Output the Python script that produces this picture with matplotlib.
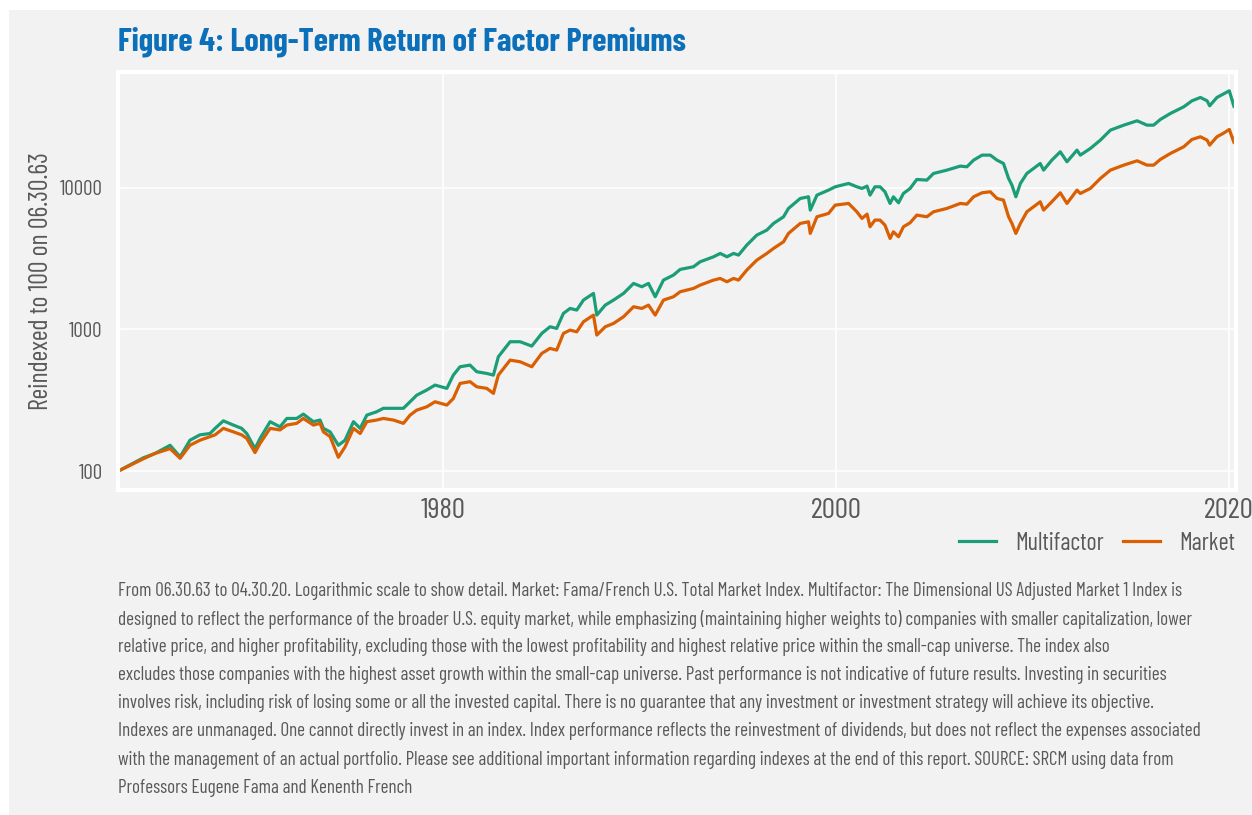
import matplotlib
matplotlib.use("Agg")
import matplotlib.pyplot as plt
from matplotlib.patches import Rectangle
from matplotlib.ticker import FixedLocator, NullLocator

# years (decimal) and index levels
years = [1963.5, 1964.77, 1965.36, 1966.13, 1966.64, 1967.14, 1967.65, 1968.16,
         1968.42, 1968.84, 1969.35, 1969.77, 1970.03, 1970.45, 1970.71, 1971.22,
         1971.72, 1972.07, 1972.57, 1972.91, 1973.42, 1973.76, 1973.93, 1974.27,
         1974.69, 1975.03, 1975.46, 1975.8, 1976.14, 1976.64, 1976.98, 1977.49,
         1978.0, 1978.34, 1978.68, 1979.19, 1979.61, 1980.21, 1980.54, 1980.88,
         1981.39, 1981.73, 1982.24, 1982.58, 1982.83, 1983.43, 1983.94, 1984.53,
         1985.04, 1985.46, 1985.8, 1986.14, 1986.48, 1986.82, 1987.16, 1987.67,
         1987.84, 1988.27, 1988.69, 1989.2, 1989.71, 1990.13, 1990.47, 1990.81,
         1991.23, 1991.74, 1992.08, 1992.76, 1993.1, 1993.78, 1994.12, 1994.46,
         1994.8, 1995.05, 1995.47, 1995.98, 1996.49, 1996.83, 1997.34, 1997.59,
         1998.19, 1998.61, 1998.7, 1999.04, 1999.63, 1999.97, 2000.65, 2001.07,
         2001.33, 2001.59, 2001.74, 2001.99, 2002.25, 2002.5, 2002.76, 2002.93,
         2003.19, 2003.44, 2003.78, 2004.12, 2004.63, 2004.97, 2005.65, 2006.33,
         2006.67, 2007.01, 2007.44, 2007.86, 2008.2, 2008.53, 2008.79, 2008.96,
         2009.16, 2009.39, 2009.72, 2010.06, 2010.4, 2010.57, 2010.99, 2011.42,
         2011.76, 2012.27, 2012.44, 2012.95, 2013.46, 2013.97, 2014.65, 2015.33,
         2015.83, 2016.17, 2016.51, 2017.02, 2017.7, 2018.12, 2018.55, 2018.89,
         2019.02, 2019.39, 2019.7, 2020.02, 2020.26, 2020.33]

multifactor = [100, 124, 133, 152, 126, 165, 180, 184,
               200, 226, 211, 200, 184, 144, 170, 223,
               205, 235, 235, 252, 223, 229, 200, 189,
               152, 165, 223, 200, 248, 262, 277, 277,
               277, 308, 343, 373, 404, 383, 475, 544,
               559, 502, 488, 475, 640, 817, 817, 761,
               935, 1042, 1014, 1294, 1403, 1366, 1607, 1791,
               1259, 1481, 1607, 1791, 2106, 1995, 2106, 1696,
               2223, 2412, 2644, 2761, 2995, 3247, 3428, 3247,
               3428, 3337, 3924, 4617, 5006, 5580, 6218, 7118,
               8373, 8603, 6929, 8838, 9588, 10120, 10683, 10120,
               9850, 10230, 8838, 10120, 10120, 9333, 7720, 8603,
               7804, 9080, 9850, 11400, 11277, 12566, 13265, 14158,
               14006, 15604, 16925, 16925, 15604, 14777, 11588, 10397,
               8603, 10683, 12566, 13630, 14777, 13265, 15604, 17865,
               15190, 18350, 16925, 18860, 21595, 25400, 27544, 29560,
               27544, 27544, 30200, 33295, 37090, 40900, 43180, 40900,
               37700, 43180, 45560, 48110, 37090, 41790]

market = [100, 122, 133, 144, 123, 152, 165, 175,
          180, 200, 189, 180, 170, 135, 157, 200,
          195, 211, 217, 235, 211, 217, 189, 175,
          125, 148, 200, 184, 223, 229, 235, 229,
          217, 248, 269, 284, 308, 292, 325, 415,
          427, 393, 383, 353, 475, 606, 590, 544,
          676, 733, 713, 935, 987, 960, 1130, 1259,
          910, 1042, 1100, 1226, 1442, 1403, 1481, 1259,
          1607, 1696, 1840, 1942, 2050, 2223, 2284, 2164,
          2284, 2223, 2615, 3076, 3428, 3718, 4143, 4744,
          5580, 5733, 4744, 6218, 6565, 7514, 7720, 6744,
          6051, 6493, 5286, 5891, 5891, 5430, 4373, 4873,
          4493, 5286, 5640, 6389, 6218, 6744, 7118, 7720,
          7637, 8603, 9180, 9333, 8373, 8149, 6218, 5580,
          4744, 5580, 6744, 7313, 7933, 6929, 7933, 9180,
          7720, 9588, 9080, 9850, 11588, 13265, 14388, 15437,
          14388, 14388, 15775, 17385, 19380, 21830, 22800, 21595,
          19910, 22800, 24060, 25680, 20680, 23040]

series_labels = ["Multifactor", "Market"]
x_ticks = [1980, 2000, 2020]
y_ticks = [100, 1000, 10000]

title = "Figure 4: Long-Term Return of Factor Premiums"
ylabel = "Reindexed to 100 on 06.30.63"
footnote_lines = [
    "From 06.30.63 to 04.30.20. Logarithmic scale to show detail. Market: Fama/French U.S. Total Market Index. Multifactor: The Dimensional US Adjusted Market 1 Index is",
    "designed to reflect the performance of the broader U.S. equity market, while emphasizing (maintaining higher weights to) companies with smaller capitalization, lower",
    "relative price, and higher profitability, excluding those with the lowest profitability and highest relative price within the small-cap universe. The index also",
    "excludes those companies with the highest asset growth within the small-cap universe. Past performance is not indicative of future results. Investing in securities",
    "involves risk, including risk of losing some or all the invested capital. There is no guarantee that any investment or investment strategy will achieve its objective.",
    "Indexes are unmanaged. One cannot directly invest in an index. Index performance reflects the reinvestment of dividends, but does not reflect the expenses associated",
    "with the management of an actual portfolio. Please see additional important information regarding indexes at the end of this report. SOURCE: SRCM using data from",
    "Professors Eugene Fama and Kenenth French",
]

FONT = ["Barlow Condensed", "Liberation Sans Narrow", "DejaVu Sans"]
plt.rcParams["font.family"] = FONT

bg = "#f2f2f2"
text_grey = "#595959"
green = "#1b9e77"
orange = "#d95f02"
W, H = 1252, 815

fig = plt.figure(figsize=(W / 100, H / 100), dpi=100)
fig.patch.set_facecolor("white")
renderer = fig.canvas.get_renderer()


def fit_size(s, width_px, **kw):
    # font size that makes the string s about width_px wide
    t = fig.text(0, 0, s, fontsize=10, **kw)
    w = t.get_window_extent(renderer=renderer).width
    t.remove()
    return 10 * width_px / w


fig.add_artist(Rectangle((9 / W, 0), 1, 1 - 10 / H, transform=fig.transFigure,
                         facecolor=bg, edgecolor="none", zorder=-10))

ax = fig.add_axes([118 / W, 1 - 490 / H, (1236 - 118) / W, (490 - 72) / H])
ax.set_facecolor(bg)
ax.plot(years, multifactor, color=green, lw=2.3, label=series_labels[0])
ax.plot(years, market, color=orange, lw=2.3, label=series_labels[1])

ax.set_yscale("log")
ax.set_xlim(1963.48, 2020.36)
ax.set_ylim(73.5, 65300)
ax.yaxis.set_major_locator(FixedLocator(y_ticks))
ax.yaxis.set_minor_locator(NullLocator())
ax.set_yticklabels([str(t) for t in y_ticks])
ax.xaxis.set_major_locator(FixedLocator(x_ticks))
ax.set_xticklabels([str(t) for t in x_ticks])
ax.grid(True, color="white", lw=1.2)
ax.set_axisbelow(True)
for s in ax.spines.values():
    s.set_color("white")
    s.set_linewidth(3)

ytick_size = fit_size("10000", 43)
xtick_size = fit_size("1980", 45)
ax.tick_params(axis="y", length=0, labelsize=ytick_size, colors=text_grey, pad=11)
ax.tick_params(axis="x", length=0, labelsize=xtick_size, colors=text_grey, pad=6)
ax.set_ylabel(ylabel, fontsize=fit_size(ylabel, 260), color=text_grey, labelpad=5)

# legend spacing given in pixels, converted to font-size units
leg_size = fit_size("Multifactor", 89)
fs_px = leg_size * 100 / 72
ax.legend(loc="center right", bbox_to_anchor=((1235 - 118) / 1118, (490 - 543) / 418),
          ncol=2, frameon=False, fontsize=leg_size, labelcolor=text_grey,
          handlelength=37 / fs_px, handletextpad=19 / fs_px, columnspacing=19 / fs_px,
          borderpad=0, borderaxespad=0)

fig.text(118 / W, 1 - 42 / H, title, fontsize=fit_size(title, 567, fontweight="bold"),
         fontweight="bold", color="#0b6fba", va="center", ha="left")

foot_size = fit_size(footnote_lines[0], 1065)
for i, line in enumerate(footnote_lines):
    fig.text(118 / W, 1 - (591 + 28.1 * i) / H, line, fontsize=foot_size,
             color=text_grey, va="center", ha="left")

fig.savefig("out.png", dpi=100, facecolor=fig.get_facecolor())
